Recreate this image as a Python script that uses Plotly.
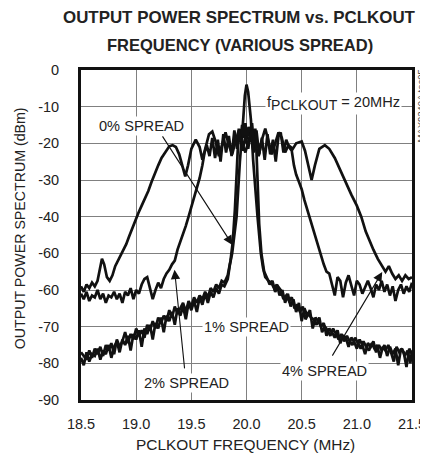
import plotly.graph_objects as go

# ---------------- data ----------------
# frequency in MHz, power in dBm
spread_0 = [
    (18.500, -78.5), (18.525, -80.5), (18.550, -77.0), (18.575, -79.5), (18.600, -77.5),
    (18.625, -78.0), (18.650, -76.0), (18.675, -79.0), (18.700, -76.5), (18.725, -77.5),
    (18.750, -75.0), (18.775, -78.5), (18.800, -75.5), (18.825, -74.0), (18.850, -77.0),
    (18.875, -73.5), (18.900, -75.0), (18.925, -72.5), (18.950, -76.5), (18.975, -72.0),
    (19.000, -73.5), (19.025, -71.0), (19.050, -75.5), (19.075, -70.5), (19.100, -72.0),
    (19.125, -69.5), (19.150, -73.5), (19.175, -69.0), (19.200, -70.5), (19.225, -67.5),
    (19.250, -71.5), (19.275, -67.0), (19.300, -68.5), (19.325, -66.0), (19.350, -69.5),
    (19.375, -65.0), (19.400, -67.0), (19.425, -64.5), (19.450, -68.0), (19.475, -63.5),
    (19.500, -65.5), (19.525, -63.0), (19.550, -66.0), (19.575, -62.0), (19.600, -64.0),
    (19.625, -61.0), (19.650, -63.5), (19.675, -60.5), (19.700, -62.0), (19.725, -59.5),
    (19.750, -61.0), (19.775, -58.5), (19.800, -59.0),
    (19.830, -57.0), (19.850, -53.0), (19.870, -50.0), (19.910, -40.0), (19.940, -25.0),
    (19.970, -13.5), (19.985, -7.0), (20.000, -4.0), (20.015, -6.0), (20.040, -13.5),
    (20.060, -24.5), (20.100, -40.0), (20.130, -50.0), (20.150, -54.0), (20.170, -56.5),
    (20.200, -57.5),
    (20.225, -58.0), (20.250, -59.5), (20.275, -58.5), (20.300, -61.5), (20.325, -60.0),
    (20.350, -63.5), (20.375, -61.0), (20.400, -64.5), (20.425, -62.5), (20.450, -66.0),
    (20.475, -63.5), (20.500, -68.5), (20.525, -65.0), (20.550, -67.0), (20.575, -65.5),
    (20.600, -70.5), (20.625, -67.5), (20.650, -68.5), (20.675, -70.0), (20.700, -69.0),
    (20.725, -72.5), (20.750, -70.5), (20.775, -71.5), (20.800, -73.0), (20.825, -71.0),
    (20.850, -74.5), (20.875, -72.5), (20.900, -73.0), (20.925, -75.5), (20.950, -73.0),
    (20.975, -74.0), (21.000, -76.0), (21.025, -73.5), (21.050, -75.0), (21.075, -77.5),
    (21.100, -74.5), (21.125, -75.5), (21.150, -74.0), (21.175, -77.0), (21.200, -75.0),
    (21.225, -76.5), (21.250, -75.0), (21.275, -78.0), (21.300, -75.5), (21.325, -77.5),
    (21.350, -76.0), (21.375, -80.5), (21.400, -76.0), (21.425, -77.0), (21.450, -81.0),
    (21.475, -76.0), (21.500, -77.5),
]

spread_1 = [
    (18.500, -77.0), (18.525, -78.0), (18.550, -79.0), (18.575, -76.5), (18.600, -78.5),
    (18.625, -76.0), (18.650, -77.5), (18.675, -75.5), (18.700, -78.0), (18.725, -75.0),
    (18.750, -76.5), (18.775, -74.5), (18.800, -77.5), (18.825, -73.5), (18.850, -75.5),
    (18.875, -74.0), (18.900, -71.5), (18.925, -74.5), (18.950, -72.0), (18.975, -73.5),
    (19.000, -70.5), (19.025, -72.5), (19.050, -71.0), (19.075, -73.0), (19.100, -69.5),
    (19.125, -71.0), (19.150, -68.5), (19.175, -70.5), (19.200, -67.5), (19.225, -69.0),
    (19.250, -67.0), (19.275, -68.5), (19.300, -65.5), (19.325, -67.5), (19.350, -64.5),
    (19.375, -66.5), (19.400, -65.0), (19.425, -63.5), (19.450, -66.0), (19.475, -63.0),
    (19.500, -64.5), (19.525, -62.0), (19.550, -63.5), (19.575, -61.5), (19.600, -62.5),
    (19.625, -60.5), (19.650, -62.0), (19.675, -59.5), (19.700, -60.5), (19.725, -58.5),
    (19.750, -59.5), (19.775, -57.5), (19.800, -58.0),
    (19.830, -56.0), (19.855, -52.0), (19.875, -47.0), (19.895, -38.0), (19.910, -28.0),
    (19.920, -20.0), (19.930, -16.0), (19.945, -19.5), (19.960, -15.0), (19.975, -18.5),
    (19.990, -14.5), (20.005, -19.0), (20.020, -15.5), (20.035, -18.0), (20.050, -14.5),
    (20.065, -19.5), (20.080, -16.0), (20.090, -22.0), (20.100, -32.0), (20.115, -42.0),
    (20.135, -50.0), (20.160, -55.0), (20.190, -57.0), (20.210, -58.5),
    (20.235, -57.5), (20.260, -60.5), (20.285, -59.0), (20.310, -60.0), (20.335, -62.5),
    (20.360, -61.5), (20.385, -63.0), (20.410, -62.0), (20.435, -65.0), (20.460, -64.0),
    (20.485, -66.0), (20.510, -64.5), (20.535, -68.0), (20.560, -66.5), (20.585, -67.5),
    (20.610, -68.0), (20.635, -69.5), (20.660, -67.5), (20.685, -71.5), (20.710, -70.0),
    (20.735, -71.0), (20.760, -72.5), (20.785, -70.5), (20.810, -72.0), (20.835, -73.5),
    (20.860, -72.0), (20.885, -74.0), (20.910, -72.5), (20.935, -74.0), (20.960, -75.0),
    (20.985, -73.0), (21.010, -74.5), (21.035, -76.0), (21.060, -74.0), (21.085, -75.5),
    (21.110, -76.5), (21.135, -74.5), (21.160, -76.0), (21.185, -75.0), (21.210, -78.5),
    (21.235, -75.5), (21.260, -76.5), (21.285, -75.0), (21.310, -77.0), (21.335, -79.5),
    (21.360, -75.5), (21.385, -77.0), (21.410, -76.0), (21.435, -78.0), (21.460, -76.5),
    (21.485, -80.0), (21.500, -76.5),
]

spread_2 = [
    (18.500, -61.0), (18.525, -62.5), (18.550, -60.5), (18.575, -63.0), (18.600, -61.5),
    (18.625, -62.0), (18.650, -60.0), (18.675, -62.5), (18.700, -61.0), (18.725, -63.5),
    (18.750, -61.5), (18.775, -62.0), (18.800, -60.5), (18.825, -62.5), (18.850, -61.0),
    (18.875, -63.5), (18.900, -60.5), (18.925, -61.5), (18.950, -59.5), (18.975, -62.5),
    (19.000, -60.0), (19.025, -61.0), (19.050, -58.5), (19.075, -57.0), (19.100, -56.5),
    (19.125, -59.5), (19.150, -62.5), (19.175, -60.0), (19.200, -58.0), (19.225, -59.5),
    (19.250, -57.0), (19.275, -55.5), (19.300, -54.5), (19.325, -53.0), (19.350, -52.0),
    (19.375, -49.0), (19.400, -47.0), (19.425, -45.0), (19.450, -42.5), (19.475, -40.0),
    (19.500, -37.5), (19.525, -35.0), (19.550, -32.5), (19.575, -29.5), (19.600, -26.0),
    (19.620, -22.5), (19.640, -20.5), (19.665, -23.5), (19.690, -18.5), (19.715, -24.0),
    (19.740, -19.0), (19.765, -25.0), (19.790, -17.5), (19.815, -22.5), (19.840, -18.0),
    (19.865, -23.5), (19.890, -16.5), (19.915, -21.5), (19.940, -17.5), (19.965, -22.0),
    (19.990, -18.0), (20.015, -21.5), (20.040, -17.0), (20.065, -22.5), (20.090, -16.5),
    (20.115, -23.0), (20.140, -18.5), (20.165, -24.5), (20.190, -17.5), (20.215, -23.0),
    (20.240, -19.0), (20.265, -25.0), (20.290, -18.0), (20.310, -17.0), (20.335, -22.5),
    (20.360, -19.0), (20.385, -21.0), (20.410, -22.0), (20.430, -26.0), (20.450, -28.5),
    (20.475, -30.5), (20.500, -32.5), (20.525, -35.5), (20.550, -38.0), (20.575, -40.5),
    (20.600, -43.0), (20.625, -45.5), (20.650, -48.5), (20.675, -50.5), (20.700, -53.0),
    (20.725, -55.0), (20.750, -55.5),
    (20.775, -58.5), (20.800, -61.5), (20.825, -56.5), (20.850, -57.5), (20.875, -62.0),
    (20.900, -58.0), (20.925, -56.0), (20.950, -59.0), (20.975, -61.5), (21.000, -57.5),
    (21.025, -58.5), (21.050, -61.0), (21.075, -59.0), (21.100, -57.5), (21.125, -59.5),
    (21.150, -62.0), (21.175, -58.5), (21.200, -60.0), (21.225, -57.5), (21.250, -60.5),
    (21.275, -58.5), (21.300, -61.5), (21.325, -59.0), (21.350, -63.0), (21.375, -60.0),
    (21.400, -58.5), (21.425, -61.0), (21.450, -59.0), (21.475, -60.5), (21.500, -58.0),
]

spread_4 = [
    (18.500, -59.0), (18.525, -60.5), (18.550, -58.5), (18.575, -59.5), (18.600, -58.0),
    (18.625, -59.0), (18.650, -57.5), (18.670, -54.0), (18.690, -51.5), (18.710, -53.0),
    (18.735, -56.5), (18.760, -57.5), (18.785, -56.0), (18.810, -53.5), (18.835, -52.0),
    (18.860, -50.5), (18.885, -49.0), (18.910, -47.5), (18.935, -45.5), (18.960, -43.5),
    (18.990, -41.0), (19.020, -39.0), (19.050, -37.0), (19.080, -35.0), (19.110, -33.0),
    (19.140, -30.5), (19.170, -28.0), (19.200, -26.0), (19.230, -24.0), (19.260, -22.5),
    (19.300, -20.8), (19.330, -20.5), (19.360, -21.0), (19.390, -23.0), (19.420, -26.5),
    (19.445, -29.0), (19.470, -26.0), (19.500, -21.5), (19.540, -19.0), (19.575, -21.0),
    (19.600, -24.5), (19.630, -21.0), (19.660, -17.5), (19.690, -16.8), (19.720, -19.5),
    (19.750, -23.5), (19.780, -20.0), (19.810, -17.0), (19.840, -20.5), (19.870, -23.0),
    (19.900, -19.5), (19.930, -16.5), (19.960, -20.0), (19.990, -22.5), (20.020, -19.0),
    (20.050, -16.5), (20.080, -20.5), (20.110, -23.5), (20.140, -19.0), (20.170, -16.0),
    (20.200, -19.5), (20.230, -23.0), (20.260, -20.0), (20.290, -17.0), (20.320, -18.5),
    (20.350, -22.5), (20.380, -20.5), (20.420, -21.5), (20.450, -20.0), (20.500, -19.5),
    (20.530, -22.0), (20.560, -26.5), (20.590, -30.0), (20.620, -26.0), (20.660, -21.5),
    (20.710, -20.5), (20.750, -21.5), (20.800, -24.0), (20.850, -27.5), (20.900, -31.0),
    (20.950, -34.0), (21.000, -37.0), (21.040, -40.0), (21.080, -44.0), (21.120, -47.0),
    (21.150, -49.0), (21.190, -51.5), (21.230, -53.5), (21.260, -55.0), (21.290, -53.5),
    (21.320, -55.5), (21.350, -57.0), (21.380, -56.0), (21.410, -57.5), (21.440, -56.0),
    (21.470, -57.0), (21.500, -56.5),
]

x_tick_vals = [18.5, 19.0, 19.5, 20.0, 20.5, 21.0, 21.5]
x_tick_text = ["18.5", "19.0", "19.5", "20.0", "20.5", "21.0", "21.5"]
y_tick_vals = [0, -10, -20, -30, -40, -50, -60, -70, -80, -90]
y_tick_text = ["0", "-10", "-20", "-30", "-40", "-60", "-60", "-70", "-80", "-90"]

FONT = "Liberation Sans, Arial, sans-serif"
INK = "#222222"

fig = go.Figure()
for name, series in [("0% SPREAD", spread_0), ("1% SPREAD", spread_1),
                     ("2% SPREAD", spread_2), ("4% SPREAD", spread_4)]:
    xs = [p[0] for p in series]
    ys = [p[1] for p in series]
    fig.add_trace(go.Scatter(x=xs, y=ys, mode="lines", name=name,
                             line=dict(color="#111111", width=2.7),
                             showlegend=False, hoverinfo="skip"))

annotations = []

# curve labels (white background hides the grid behind them)
labels = [
    dict(x=19.05, y=-15.3, text="0% SPREAD"),
    dict(x=20.0, y=-70.2, text="1% SPREAD"),
    dict(x=19.46, y=-85.3, text="2% SPREAD"),
    dict(x=20.705, y=-82.1, text="4% SPREAD"),
    dict(x=20.79, y=-9.0,
         text="f<sub><span style='font-size:14px'>PCLKOUT</span></sub> = 20MHz"),
]
for lb in labels:
    annotations.append(dict(x=lb["x"], y=lb["y"], xref="x", yref="y", text=lb["text"],
                            showarrow=False, bgcolor="white", borderpad=1,
                            font=dict(family=FONT, size=14.6, color=INK)))

arrows = [
    dict(x=19.873, y=-47.7, ax=19.23, ay=-17.7),
    dict(x=19.348, y=-54.5, ax=19.44, ay=-81.8),
    dict(x=21.23, y=-55.1, ax=20.77, ay=-78.3),
]
for ar in arrows:
    annotations.append(dict(x=ar["x"], y=ar["y"], ax=ar["ax"], ay=ar["ay"],
                            xref="x", yref="y", axref="x", ayref="y", text="",
                            showarrow=True, arrowhead=2, arrowsize=1.7, arrowwidth=1.1,
                            arrowcolor="#111111", standoff=0, startstandoff=0))

# figure id, rotated, at the right of the frame
annotations.append(dict(x=1.025, y=0.89, xref="paper", yref="paper", xanchor="center",
                        yanchor="middle", text="MAX9240A toc05", textangle=-90,
                        showarrow=False, font=dict(family=FONT, size=9.5, color="#444444")))

# title (two lines)
annotations.append(dict(x=0.479, y=1.158, xref="paper", yref="paper", xanchor="center",
                        yanchor="middle", text="<b>OUTPUT POWER SPECTRUM vs. PCLKOUT</b>",
                        showarrow=False, font=dict(family=FONT, size=16.9, color=INK)))
annotations.append(dict(x=0.479, y=1.076, xref="paper", yref="paper", xanchor="center",
                        yanchor="middle", text="<b>FREQUENCY (VARIOUS SPREAD)</b>",
                        showarrow=False, font=dict(family=FONT, size=16.5, color=INK)))

# axis titles
annotations.append(dict(x=0.498, y=-0.136, xref="paper", yref="paper", xanchor="center",
                        yanchor="middle", text="PCLKOUT FREQUENCY (MHz)",
                        showarrow=False, font=dict(family=FONT, size=15.4, color=INK)))
annotations.append(dict(x=-0.184, y=0.521, xref="paper", yref="paper", xanchor="center",
                        yanchor="middle", text="OUTPUT POWER SPECTRUM (dBm)", textangle=-90,
                        showarrow=False, font=dict(family=FONT, size=14.2, color=INK)))

# the page adds an 8 px body margin, so the figure is 8 px smaller than the window
fig.update_layout(
    width=420, height=452,
    margin=dict(l=73, r=16, t=62, b=60),
    paper_bgcolor="white", plot_bgcolor="white",
    font=dict(family=FONT, size=14.5, color=INK),
    annotations=annotations,
)
fig.update_xaxes(range=[18.5, 21.5], tickvals=x_tick_vals, ticktext=x_tick_text,
                 showgrid=True, gridcolor="#808080", gridwidth=1.2,
                 showline=True, linecolor="#111111", linewidth=3, mirror=True,
                 ticks="outside", ticklen=9, tickcolor="rgba(0,0,0,0)",
                 zeroline=False, automargin=False,
                 tickfont=dict(family=FONT, size=14.5, color=INK))
fig.update_yaxes(range=[-90, 0], tickvals=y_tick_vals, ticktext=y_tick_text,
                 showgrid=True, gridcolor="#808080", gridwidth=1.2,
                 showline=True, linecolor="#111111", linewidth=3, mirror=True,
                 ticks="outside", ticklen=16, tickcolor="rgba(0,0,0,0)",
                 zeroline=False, automargin=False,
                 tickfont=dict(family=FONT, size=14.5, color=INK))

fig.write_html("out.html")
